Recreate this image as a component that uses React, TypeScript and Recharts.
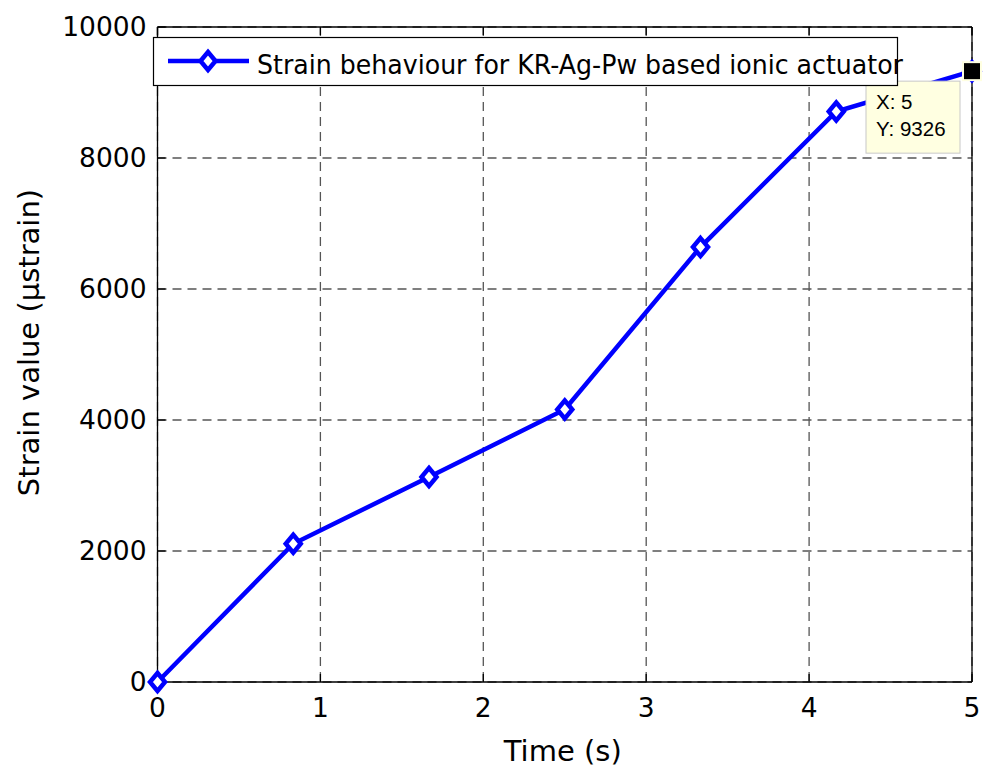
import React from "react";
import { CartesianGrid, Legend, Line, LineChart, XAxis, YAxis } from "recharts";

const timeValues = [0, 0.8333, 1.6667, 2.5, 3.3333, 4.1667, 5];
const strainValues = [0, 2110, 3130, 4160, 6640, 8710, 9326];
const xTicks = [0, 1, 2, 3, 4, 5];
const yTicks = [0, 2000, 4000, 6000, 8000, 10000];
const seriesName = "Strain behaviour for KR-Ag-Pw based ionic actuator";

const data = timeValues.map((t, i) => ({ time: t, strain: strainValues[i] }));

const BLUE = "#0000ff";
const FONT = "'DejaVu Sans', Verdana, sans-serif";

function Diamond({ cx, cy }: { cx: number; cy: number }) {
  const hw = 7.5;
  const hh = 9;
  return (
    <polygon
      points={`${cx},${cy - hh} ${cx + hw},${cy} ${cx},${cy + hh} ${cx - hw},${cy}`}
      fill="#ffffff"
      stroke={BLUE}
      strokeWidth={4.5}
    />
  );
}

// MATLAB style data tip on the last point
function DataTip({ cx, cy, payload }: { cx: number; cy: number; payload: any }) {
  return (
    <g>
      <rect x={cx - 106} y={cy + 10} width={94} height={72} fill="#ffffe1" stroke="#c8c8c8" strokeWidth={1} />
      <text x={cx - 96} y={cy + 38} fontSize={20.5} fontFamily="'Liberation Sans', Arial, sans-serif" fill="#000">
        {`X: ${payload.time}`}
      </text>
      <text x={cx - 96} y={cy + 65} fontSize={20.5} fontFamily="'Liberation Sans', Arial, sans-serif" fill="#000">
        {`Y: ${payload.strain}`}
      </text>
      <rect x={cx - 9} y={cy - 9} width={18} height={18} fill="#000" stroke="#ffffe1" strokeWidth={2} />
    </g>
  );
}

function StrainDot(props: any) {
  const { cx, cy, index, payload } = props;
  if (cx == null || cy == null) return null;
  if (index === data.length - 1) {
    return (
      <g>
        <Diamond cx={cx} cy={cy} />
        <DataTip cx={cx} cy={cy} payload={payload} />
      </g>
    );
  }
  return <Diamond cx={cx} cy={cy} />;
}

function renderLegend() {
  return (
    <svg width={760} height={50} style={{ display: "block", overflow: "visible" }}>
      <rect x={0.5} y={0.5} width={744} height={48} fill="#ffffff" stroke="#000" strokeWidth={1.2} />
      <line x1={15} x2={96} y1={24} y2={24} stroke={BLUE} strokeWidth={4.5} />
      <Diamond cx={55} cy={24} />
      <text x={104} y={37} fontSize={27} fontFamily={FONT} fill="#000" textLength={646} lengthAdjust="spacingAndGlyphs">
        {seriesName}
      </text>
    </svg>
  );
}

function YLabel(props: any) {
  const { viewBox } = props;
  const cy = viewBox.y + viewBox.height / 2 - 12;
  const x = 38.5;
  return (
    <text x={x} y={cy} transform={`rotate(-90 ${x} ${cy})`} textAnchor="middle" fontSize={29} fontFamily={FONT} fill="#000">
      Strain value (μstrain)
    </text>
  );
}

function XLabel(props: any) {
  const { viewBox } = props;
  const cx = viewBox.x + viewBox.width / 2 - 2;
  return (
    <text x={cx} y={761} textAnchor="middle" fontSize={29} fontFamily={FONT} fill="#000">
      Time (s)
    </text>
  );
}

const tickStyle = { fill: "#000", fontSize: 26.5, fontFamily: FONT };

export default function App() {
  return (
    <div style={{ position: "absolute", left: 0, top: 0, width: 985, height: 772, background: "#fff" }}>
      <LineChart width={985} height={772} data={data} margin={{ top: 26, right: 12, left: 57.5, bottom: 10 }}>
        <CartesianGrid xAxisId="bottom" yAxisId="left" stroke="#555555" strokeWidth={1.3} strokeDasharray="9 6" />
        <XAxis
          xAxisId="bottom"
          dataKey="time"
          type="number"
          domain={[0, 5]}
          ticks={xTicks}
          height={80}
          stroke="#000"
          axisLine={{ stroke: "#000", strokeWidth: 1.3 }}
          tickLine={{ stroke: "#000", strokeWidth: 1.3 }}
          tickSize={-8}
          tickMargin={24}
          tick={tickStyle}
          label={<XLabel />}
        />
        <XAxis
          xAxisId="top"
          orientation="top"
          dataKey="time"
          type="number"
          domain={[0, 5]}
          ticks={xTicks}
          height={1}
          axisLine={{ stroke: "#000", strokeWidth: 1.3 }}
          tickLine={{ stroke: "#000", strokeWidth: 1.3 }}
          tickSize={-8}
          tickFormatter={() => ""}
        />
        <YAxis
          yAxisId="left"
          type="number"
          domain={[0, 10000]}
          ticks={yTicks}
          width={100}
          axisLine={{ stroke: "#000", strokeWidth: 1.3 }}
          tickLine={{ stroke: "#000", strokeWidth: 1.3 }}
          tickSize={-8}
          tickMargin={19}
          tick={tickStyle}
          label={<YLabel />}
        />
        <YAxis
          yAxisId="right"
          orientation="right"
          type="number"
          domain={[0, 10000]}
          ticks={yTicks}
          width={1}
          axisLine={{ stroke: "#000", strokeWidth: 1.3 }}
          tickLine={{ stroke: "#000", strokeWidth: 1.3 }}
          tickSize={-8}
          tickFormatter={() => ""}
        />
        <Legend
          layout="vertical"
          align="center"
          verticalAlign="middle"
          content={renderLegend}
          wrapperStyle={{ position: "absolute", left: 153, top: 37, width: 760, height: 50 }}
        />
        <Line
          xAxisId="bottom"
          yAxisId="left"
          type="linear"
          dataKey="strain"
          name={seriesName}
          stroke={BLUE}
          strokeWidth={4.5}
          dot={<StrainDot />}
          activeDot={false}
          isAnimationActive={false}
        />
      </LineChart>
    </div>
  );
}
